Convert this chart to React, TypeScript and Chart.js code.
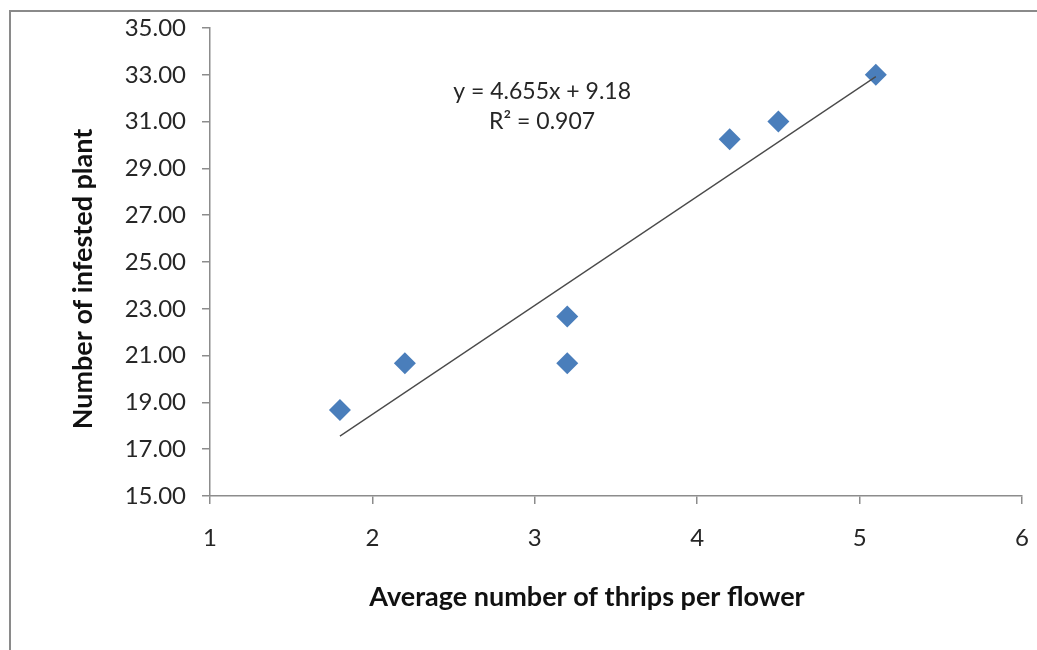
import React, { useEffect, useRef } from "react";
import { Chart, registerables } from "chart.js";

Chart.register(...registerables);

const thripsPerFlower = [1.8, 2.2, 3.2, 3.2, 4.2, 4.5, 5.1];
const infestedPlants = [18.67, 20.67, 22.67, 20.67, 30.25, 31.0, 33.0];
const trendSlope = 4.655;
const trendIntercept = 9.18;
const trendRangeX = [1.8, 5.1];
const equationLines = ["y = 4.655x + 9.18", "R² = 0.907"];
const xTitle = "Average number of thrips per flower";
const yTitle = "Number of infested plant";

const FONT = "Lato, 'Open Sans', sans-serif";
const AXIS_GRAY = "#8c8c8c";

const decorPlugin = {
  id: "decor",
  afterDraw(chart: any) {
    const ctx = chart.ctx;
    const xs = chart.scales.x;
    const ys = chart.scales.y;
    ctx.save();
    // outer frame (cropped at right/bottom)
    ctx.strokeStyle = "#8a8a8a";
    ctx.lineWidth = 2;
    ctx.beginPath();
    ctx.moveTo(10, 650);
    ctx.lineTo(10, 11);
    ctx.lineTo(1037, 11);
    ctx.stroke();

    // equation annotation
    ctx.fillStyle = "#262626";
    ctx.font = `23px ${FONT}`;
    ctx.textAlign = "center";
    ctx.textBaseline = "middle";
    const ax = xs.getPixelForValue(3.045);
    ctx.fillText(equationLines[0], ax, ys.getPixelForValue(32.3));
    ctx.fillText(equationLines[1], ax, ys.getPixelForValue(31.0));

    // axis titles
    ctx.fillStyle = "#111";
    ctx.font = `bold 27px ${FONT}`;
    ctx.fillText(xTitle, 587, 597);
    ctx.translate(83, 279);
    ctx.rotate(-Math.PI / 2);
    ctx.fillText(yTitle, 0, 0);
    ctx.restore();
  },
};

export default function App() {
  const ref = useRef<HTMLCanvasElement | null>(null);
  useEffect(() => {
    if (!ref.current) return;
    const scatterData = thripsPerFlower.map((x, i) => ({ x, y: infestedPlants[i] }));
    const trendData = trendRangeX.map((x) => ({ x, y: trendSlope * x + trendIntercept }));
    const chart = new Chart(ref.current, {
      type: "scatter",
      data: {
        datasets: [
          {
            type: "line",
            label: "Trend",
            data: trendData,
            borderColor: "#4a4a4a",
            borderWidth: 1.3,
            pointRadius: 0,
            fill: false,
          } as any,
          {
            label: "Infested",
            data: scatterData,
            pointStyle: "rectRot",
            pointRadius: 11,
            pointHoverRadius: 11,
            backgroundColor: "#4a7ebb",
            borderColor: "#4a7ebb",
            borderWidth: 0,
          },
        ],
      },
      options: {
        animation: false,
        responsive: false,
        maintainAspectRatio: false,
        layout: { padding: { left: 0, top: 28, right: 15, bottom: 0 } },
        plugins: { legend: { display: false }, tooltip: { enabled: false } },
        scales: {
          x: {
            type: "linear",
            min: 1,
            max: 6,
            afterFit: (s: any) => {
              s.height = 154;
              s.paddingLeft = 0;
              s.paddingRight = 0;
            },
            ticks: {
              stepSize: 1,
              padding: 20,
              color: "#262626",
              font: { family: FONT, size: 24 },
            },
            grid: {
              drawOnChartArea: false,
              drawTicks: true,
              tickLength: 8,
              color: AXIS_GRAY,
              lineWidth: 1.5,
            },
            border: { color: AXIS_GRAY, width: 1.5 },
          },
          y: {
            type: "linear",
            min: 15,
            max: 35,
            afterFit: (s: any) => {
              s.width = 210;
              s.paddingTop = 0;
              s.paddingBottom = 0;
            },
            ticks: {
              stepSize: 2,
              padding: 16,
              color: "#262626",
              font: { family: FONT, size: 24 },
              callback: (v: any) => Number(v).toFixed(2),
            },
            grid: {
              drawOnChartArea: false,
              drawTicks: true,
              tickLength: 8,
              color: AXIS_GRAY,
              lineWidth: 1.5,
            },
            border: { color: AXIS_GRAY, width: 1.5 },
          },
        },
      },
      plugins: [decorPlugin],
    });
    return () => chart.destroy();
  }, []);
  return (
    <div style={{ position: "fixed", left: 0, top: 0, width: 1037, height: 650, background: "#fff" }}>
      <canvas ref={ref} width={1037} height={650} style={{ width: 1037, height: 650 }} />
    </div>
  );
}
